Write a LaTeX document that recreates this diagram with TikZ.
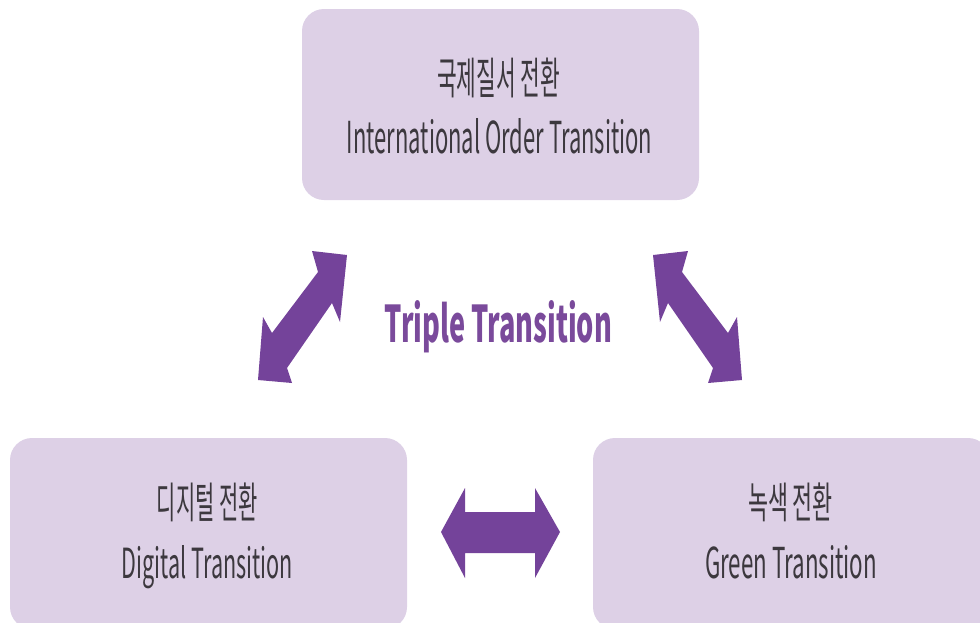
\documentclass[tikz,border=0pt]{standalone}
\usepackage{graphicx}
\usepackage{fontspec}
\newfontfamily\kr{Noto Sans CJK KR}
\definecolor{boxfill}{HTML}{DDD0E6}
\definecolor{arrowc}{HTML}{74439A}
\definecolor{titlec}{HTML}{7A4A9B}
\definecolor{txt}{HTML}{3C383E}
\begin{document}
\begin{tikzpicture}[x=1pt,y=-1pt,
  box/.style={draw=none, fill=boxfill, rounded corners=22pt, inner sep=0,
    minimum width=397pt, minimum height=191pt},
  lbl/.style={inner sep=0, text=txt, font=\kr},
  bigarrow/.style={fill=arrowc, draw=none}]
\useasboundingbox (0,0) rectangle (980,622);
\clip (0,0) rectangle (980,622);
% boxes
\node[box] (top) at (500.5,104.5) {};
\node[box] (left) at (208.5,533.5) {};
\node[box] (right) at (791.5,533.5) {};
% labels
\node[lbl, anchor=north] (topko) at (498.5,58) {\resizebox*{123pt}{40pt}{국제질서 전환}};
\node[lbl, anchor=base] (topen) at (499.5,153) {\resizebox{305pt}{35pt}{International Order Transition}};
\node[lbl, anchor=north] (leftko) at (207.5,483) {\resizebox*{101pt}{39pt}{디지털 전환}};
\node[lbl, anchor=base] (leften) at (207.5,578) {\resizebox{171pt}{33pt}{Digital Transition}};
\node[lbl, anchor=north] (rightko) at (790.5,483) {\resizebox*{85pt}{39pt}{녹색 전환}};
\node[lbl, anchor=base] (righten) at (791,578) {\resizebox{172pt}{33pt}{Green Transition}};
\node[inner sep=0, text=titlec, font=\kr\bfseries, anchor=base] (triple) at (498.5,342)
  {\resizebox{227pt}{42pt}{Triple Transition}};
% arrows
\path[bigarrow] (347,255) -- (340,322) -- (332,303) -- (287,368) -- (292,383)
  -- (258,380) -- (263,317) -- (272,333) -- (318,272) -- (312,251) -- cycle;
\path[bigarrow] (653,255) -- (660,322) -- (668,303) -- (713,368) -- (708,383)
  -- (742,380) -- (737,317) -- (728,333) -- (682,272) -- (688,251) -- cycle;
\path[bigarrow] (441,532) -- (465,488) -- (465,512) -- (535,512) -- (535,488)
  -- (560,532) -- (535,578) -- (535,553) -- (465,553) -- (465,578) -- cycle;
\end{tikzpicture}
\end{document}
